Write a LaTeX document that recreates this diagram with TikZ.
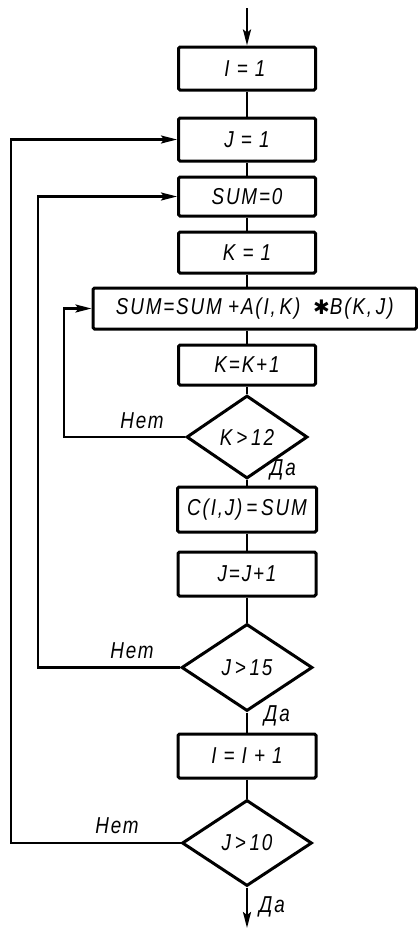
\documentclass[tikz,border=0pt]{standalone}
\usepackage{fontspec}
\setmainfont{Liberation Sans}[LetterSpace=8,FakeStretch=0.82]
\newfontfamily\starfont{DejaVu Sans}
\usetikzlibrary{shapes.geometric,arrows.meta}

\begin{document}
\begin{tikzpicture}[x=1pt,y=-1pt,
  txt/.style={font=\itshape\fontsize{23}{23}\selectfont},
  blk/.style={txt,draw,line width=3pt,rounded corners=1.5pt,inner sep=0pt,
    minimum width=137pt,minimum height=43pt},
  dec/.style={txt,draw,diamond,line width=3pt,inner sep=0pt,
    minimum width=124pt,minimum height=85pt},
  con/.style={line width=2.2pt},
  arr/.style={con,-{Stealth[length=16pt,width=8pt,inset=3pt]}},
  lab/.style={txt}
]
\useasboundingbox (0,0) rectangle (418,930);

% process boxes and decisions
\node[blk] (i1) at (247,68.5) {$\!$I = 1};
\node[blk] (j1) at (247,139.5) {J = 1};
\node[blk,minimum height=39pt] (s0) at (247,196.5) {SUM=0};
\node[blk,minimum height=41pt] (k1) at (247,252.5) {K = 1};
\node[blk,minimum width=323.5pt,minimum height=41pt] (acc) at (254.75,308.5)
  {SUM=SUM\;+A(I,\,K)\;\;{\starfont\upshape\fontsize{20}{20}\selectfont ✱}B(K,\,J)};
\node[blk,minimum height=40pt] (kinc) at (247,365) {K=K+1};
\node[dec,minimum width=121pt,minimum height=83pt] (dk) at (247,437) {K\,>\,12};
\node[blk,minimum width=139pt,minimum height=45pt] (c) at (247,509.5) {C(I,J)\,=\,SUM};
\node[blk,minimum width=138pt,minimum height=44pt] (jinc) at (247,574) {J=J+1};
\node[dec,minimum width=131pt,minimum height=87pt] (dj) at (247,667.5) {J\,>\,15};
\node[blk,minimum width=138pt,minimum height=44pt] (iinc) at (247,756) {I = I + 1};
\node[dec,minimum width=130pt,minimum height=86pt] (di) at (247,843) {J\,>\,10};

\coordinate (start) at (247,8);
\coordinate (stop) at (247,928);
\coordinate (xo) at (11,0);
\coordinate (xm) at (38,0);
\coordinate (xi) at (64,0);

% main flow
\draw[arr] (start) -- (i1);
\draw[con] (i1) -- (j1);
\draw[con] (j1) -- (s0);
\draw[con] (s0) -- (k1);
\draw[con] (k1.south) -- (k1.south |- acc.north);
\draw[con] (kinc.north |- acc.south) -- (kinc.north);
\draw[con] (kinc) -- (dk);
\draw[con] (dk) -- (c);
\draw[con] (c) -- (jinc);
\draw[con] (jinc) -- (dj);
\draw[con] (dj) -- (iinc);
\draw[con] (iinc) -- (di);
\draw[arr] (di) -- (stop);

% loops back
\draw[arr] (dk.west) -- (dk.west -| xi) |- (acc.west);
\draw[arr] (dj.west) -- (dj.west -| xm) |- (s0.west);
\draw[arr] (di.west) -- (di.west -| xo) |- (j1.west);

% branch labels
\node[lab] (n1) at (142,421) {Нет};
\node[lab] (n2) at (132,651) {Нет};
\node[lab] (n3) at (117,826) {Нет};
\node[lab] (y1) at (283,470) {Да};
\node[lab] (y2) at (277,716) {Да};
\node[lab] (y3) at (272,907) {Да};
\end{tikzpicture}
\end{document}
